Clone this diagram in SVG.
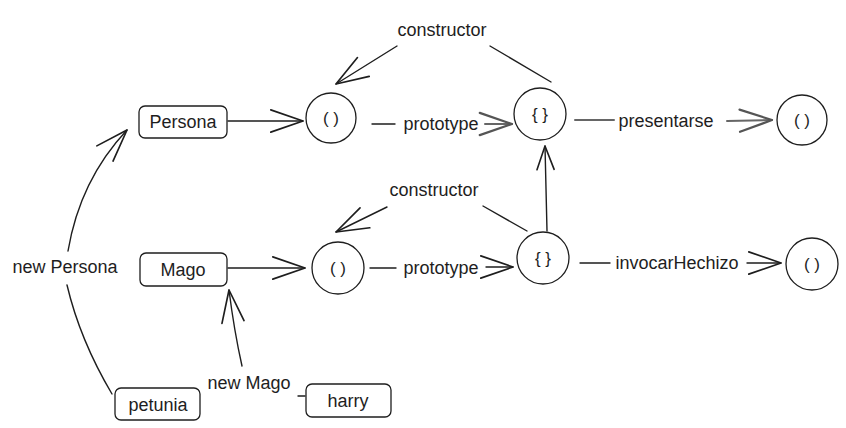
<svg xmlns="http://www.w3.org/2000/svg" width="846" height="428" viewBox="0 0 846 428">
<style>
.box{fill:#fff;stroke:#1e1e1e;stroke-width:1.3}
.cir{fill:none;stroke:#1e1e1e;stroke-width:1.3}
.t{font-family:"Liberation Sans",Arial,sans-serif;font-size:18px;fill:#1e1e1e;text-anchor:middle;dominant-baseline:central}
.s{font-family:"Liberation Sans",Arial,sans-serif;font-size:17px;fill:#1e1e1e;text-anchor:middle;dominant-baseline:central}
.e{fill:none;stroke:#1e1e1e;stroke-width:1.4;stroke-linecap:round;stroke-linejoin:round}
.g{stroke:#666;stroke-width:2}
</style>
<defs>
<marker id="ah" markerUnits="userSpaceOnUse" markerWidth="40" markerHeight="40" viewBox="-32 -14 36 28" refX="0" refY="0" orient="auto">
<path d="M-29,-10 L0,0 L-29,10" fill="none" stroke="#1e1e1e" stroke-width="1.5" stroke-linecap="round" stroke-linejoin="round"/>
</marker>
<marker id="ahg" markerUnits="userSpaceOnUse" markerWidth="40" markerHeight="40" viewBox="-32 -14 36 28" refX="0" refY="0" orient="auto">
<path d="M-29,-10 L0,0 L-29,10" fill="none" stroke="#555" stroke-width="2" stroke-linecap="round" stroke-linejoin="round"/>
</marker>
<marker id="ahs" markerUnits="userSpaceOnUse" markerWidth="30" markerHeight="30" viewBox="-24 -12 28 24" refX="0" refY="0" orient="auto">
<path d="M-22,-8 L0,0 L-22,8" fill="none" stroke="#1e1e1e" stroke-width="1.5" stroke-linecap="round" stroke-linejoin="round"/>
</marker>
</defs>

<g id="connectors">
  <!-- Persona -> fn -->
  <path class="e" d="M228,121 L303,121" marker-end="url(#ah)"/>
  <!-- prototype top -->
  <path class="e" d="M372,124 L395,124"/>
  <text class="t" x="441" y="124">prototype</text>
  <path class="e g" d="M485,124 L512,124" marker-end="url(#ahg)"/>
  <!-- presentarse -->
  <path class="e g" d="M575,120 L614,120"/>
  <text class="t" x="666" y="121">presentarse</text>
  <path class="e g" d="M727,121 L772,120" marker-end="url(#ahg)"/>
  <!-- constructor top -->
  <text class="t" x="442" y="30">constructor</text>
  <path class="e" d="M551,82 L490,46"/>
  <path class="e" d="M397,46 L336,84" marker-end="url(#ah)"/>
  <!-- Mago -> fn -->
  <path class="e" d="M228,268 L305,268" marker-end="url(#ah)"/>
  <!-- prototype bottom -->
  <path class="e" d="M370,268 L396,268"/>
  <text class="t" x="441" y="268">prototype</text>
  <path class="e" d="M486,267 L513,267" marker-end="url(#ah)"/>
  <!-- invocarHechizo -->
  <path class="e" d="M580,263 L610,263"/>
  <text class="t" x="677" y="263">invocarHechizo</text>
  <path class="e" d="M747,263 L781,263" marker-end="url(#ah)"/>
  <!-- constructor bottom -->
  <text class="t" x="434" y="190">constructor</text>
  <path class="e" d="M527,231 L483,206"/>
  <path class="e" d="M387,207 L336,232" marker-end="url(#ah)"/>
  <!-- proto chain -->
  <path class="e" d="M547,231 L545,146" marker-end="url(#ahs)"/>
  <!-- new Persona -->
  <path class="e" d="M112,394 Q80,340 67,285"/>
  <text class="t" x="65" y="267">new Persona</text>
  <path class="e" d="M68,251 Q80,180 127,130" marker-end="url(#ah)"/>
  <!-- new Mago -->
  <path class="e" d="M298,396 L305,396"/>
  <text class="t" x="249" y="383">new Mago</text>
  <path class="e" d="M242,366 Q234,330 229,290" marker-end="url(#ah)"/>
</g>

<g id="persona"><rect class="box" x="139" y="106" width="88" height="32" rx="6"/><text class="t" x="183" y="122">Persona</text></g>
<g id="mago"><rect class="box" x="140" y="253" width="87" height="33" rx="6"/><text class="t" x="183" y="270">Mago</text></g>
<g id="petunia"><rect class="box" x="115" y="388" width="85" height="32" rx="6"/><text class="t" x="158" y="405">petunia</text></g>
<g id="harry"><rect class="box" x="306" y="384" width="85" height="33" rx="6"/><text class="t" x="348" y="401">harry</text></g>

<g id="persona-fn"><circle class="cir" cx="331" cy="118" r="25"/><text class="s" x="331" y="118">( )</text></g>
<g id="persona-proto"><circle class="cir" cx="540" cy="114" r="26"/><text class="s" x="540" y="114">{ }</text></g>
<g id="presentarse-fn"><circle class="cir" cx="802" cy="120" r="25"/><text class="s" x="802" y="120">( )</text></g>
<g id="mago-fn"><circle class="cir" cx="338" cy="268" r="26"/><text class="s" x="338" y="268">( )</text></g>
<g id="mago-proto"><circle class="cir" cx="543" cy="258" r="26"/><text class="s" x="543" y="258">{ }</text></g>
<g id="invocar-fn"><circle class="cir" cx="812" cy="264" r="26"/><text class="s" x="812" y="264">( )</text></g>
</svg>
